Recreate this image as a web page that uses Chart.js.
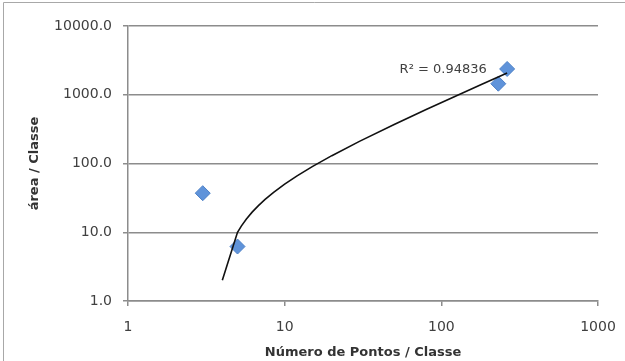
<!DOCTYPE html>
<html>
<head>
<meta charset="utf-8">
<script src="https://cdn.jsdelivr.net/npm/chart.js"></script>
<style> body { margin: 0; background: white; } #wrap { width: 625px; height: 361px; } </style>
</head>
<body>
<div id="wrap"><canvas id="myChart"></canvas></div>
<script>
    // pontos
    const pontosX = [3, 5, 231, 263];
    const areaY = [37, 6.2, 1447, 2372];

    // linha de tendência linear (y = a*x + b)
    const trendA = 8.0;
    const trendB = -30;
    const trendXs = [4, 5, 5.3, 5.7, 6.2, 6.8, 7.5, 8.5, 10, 12, 15, 20, 30, 50, 80, 120, 180, 263];
    const r2Text = 'R\u00b2 = 0.94836';

    const xTicks = [1, 10, 100, 1000];
    const xTickLabels = ['1', '10', '100', '1000'];
    const yTicks = [1, 10, 100, 1000, 10000];
    const yTickLabels = ['1.0', '10.0', '100.0', '1000.0', '10000.0'];

    const pontos = pontosX.map((x, i) => ({ x: x, y: areaY[i] }));
    const tendencia = trendXs.map(x => ({ x: x, y: trendA * x + trendB }));

    const frame = {
        id: 'frame',
        beforeDraw(chart) {
            const ctx = chart.ctx;
            ctx.save();
            ctx.strokeStyle = '#a8a8a8';
            ctx.lineWidth = 1;
            ctx.beginPath();
            ctx.moveTo(3.5, chart.height);
            ctx.lineTo(3.5, 2.5);
            ctx.lineTo(chart.width, 2.5);
            ctx.stroke();
            ctx.restore();
        }
    };

    const r2Label = {
        id: 'r2Label',
        afterDatasetsDraw(chart) {
            const ctx = chart.ctx;
            const x = chart.scales.x.getPixelForValue(195);
            const y = chart.scales.y.getPixelForValue(2300);
            ctx.save();
            ctx.font = '13px "DejaVu Sans"';
            ctx.fillStyle = '#404040';
            ctx.textAlign = 'right';
            ctx.textBaseline = 'middle';
            ctx.fillText(r2Text, x, y);
            ctx.restore();
        }
    };

    const ctx = document.getElementById('myChart').getContext('2d');
    new Chart(ctx, {
        type: 'scatter',
        data: {
            datasets: [
                {
                    label: 'tendência',
                    data: tendencia,
                    showLine: true,
                    borderColor: '#111',
                    borderWidth: 1.6,
                    pointRadius: 0,
                    tension: 0,
                    order: 0
                },
                {
                    label: 'área',
                    data: pontos,
                    pointStyle: 'rectRot',
                    pointRadius: 7.5,
                    backgroundColor: '#5f93da',
                    borderColor: '#4d80c6',
                    borderWidth: 1,
                    order: 1
                }
            ]
        },
        options: {
            responsive: true,
            maintainAspectRatio: false,
            animation: false,
            layout: { padding: { top: 26, right: 27, bottom: 0, left: 0 } },
            plugins: {
                legend: { display: false },
                tooltip: { enabled: false }
            },
            scales: {
                x: {
                    type: 'logarithmic',
                    min: 1, max: 1000,
                    afterBuildTicks: s => { s.ticks = xTicks.map(v => ({ value: v })); },
                    afterFit: s => { s.height = 60; s.paddingRight = 0; s.paddingLeft = 0; },
                    ticks: {
                        callback: (v) => xTickLabels[xTicks.indexOf(v)],
                        font: { family: 'DejaVu Sans', size: 14 },
                        color: '#404040',
                        padding: 12.5,
                        maxRotation: 0
                    },
                    grid: { drawOnChartArea: false, tickLength: 5, color: '#8c8c8c', lineWidth: 1.5 },
                    border: { color: '#8c8c8c', width: 1.5 },
                    title: {
                        display: true,
                        text: 'Número de Pontos / Classe',
                        font: { family: 'DejaVu Sans', size: 13, weight: 'bold' },
                        color: '#333',
                        padding: { top: 0, bottom: 0.5 }
                    }
                },
                y: {
                    type: 'logarithmic',
                    min: 1, max: 10000,
                    afterBuildTicks: s => { s.ticks = yTicks.map(v => ({ value: v })); },
                    afterFit: s => { s.width = 128; },
                    ticks: {
                        callback: (v) => yTickLabels[yTicks.indexOf(v)],
                        font: { family: 'DejaVu Sans', size: 14 },
                        color: '#404040',
                        padding: 11
                    },
                    grid: { tickLength: 5, color: '#8c8c8c', lineWidth: 1.5 },
                    border: { color: '#8c8c8c', width: 1.5 },
                    title: {
                        display: true,
                        text: 'área / Classe',
                        font: { family: 'DejaVu Sans', size: 13, weight: 'bold' },
                        color: '#333',
                        padding: { top: 27, bottom: 0 }
                    }
                }
            }
        },
        plugins: [frame, r2Label]
    });
</script>
</body>
</html>
